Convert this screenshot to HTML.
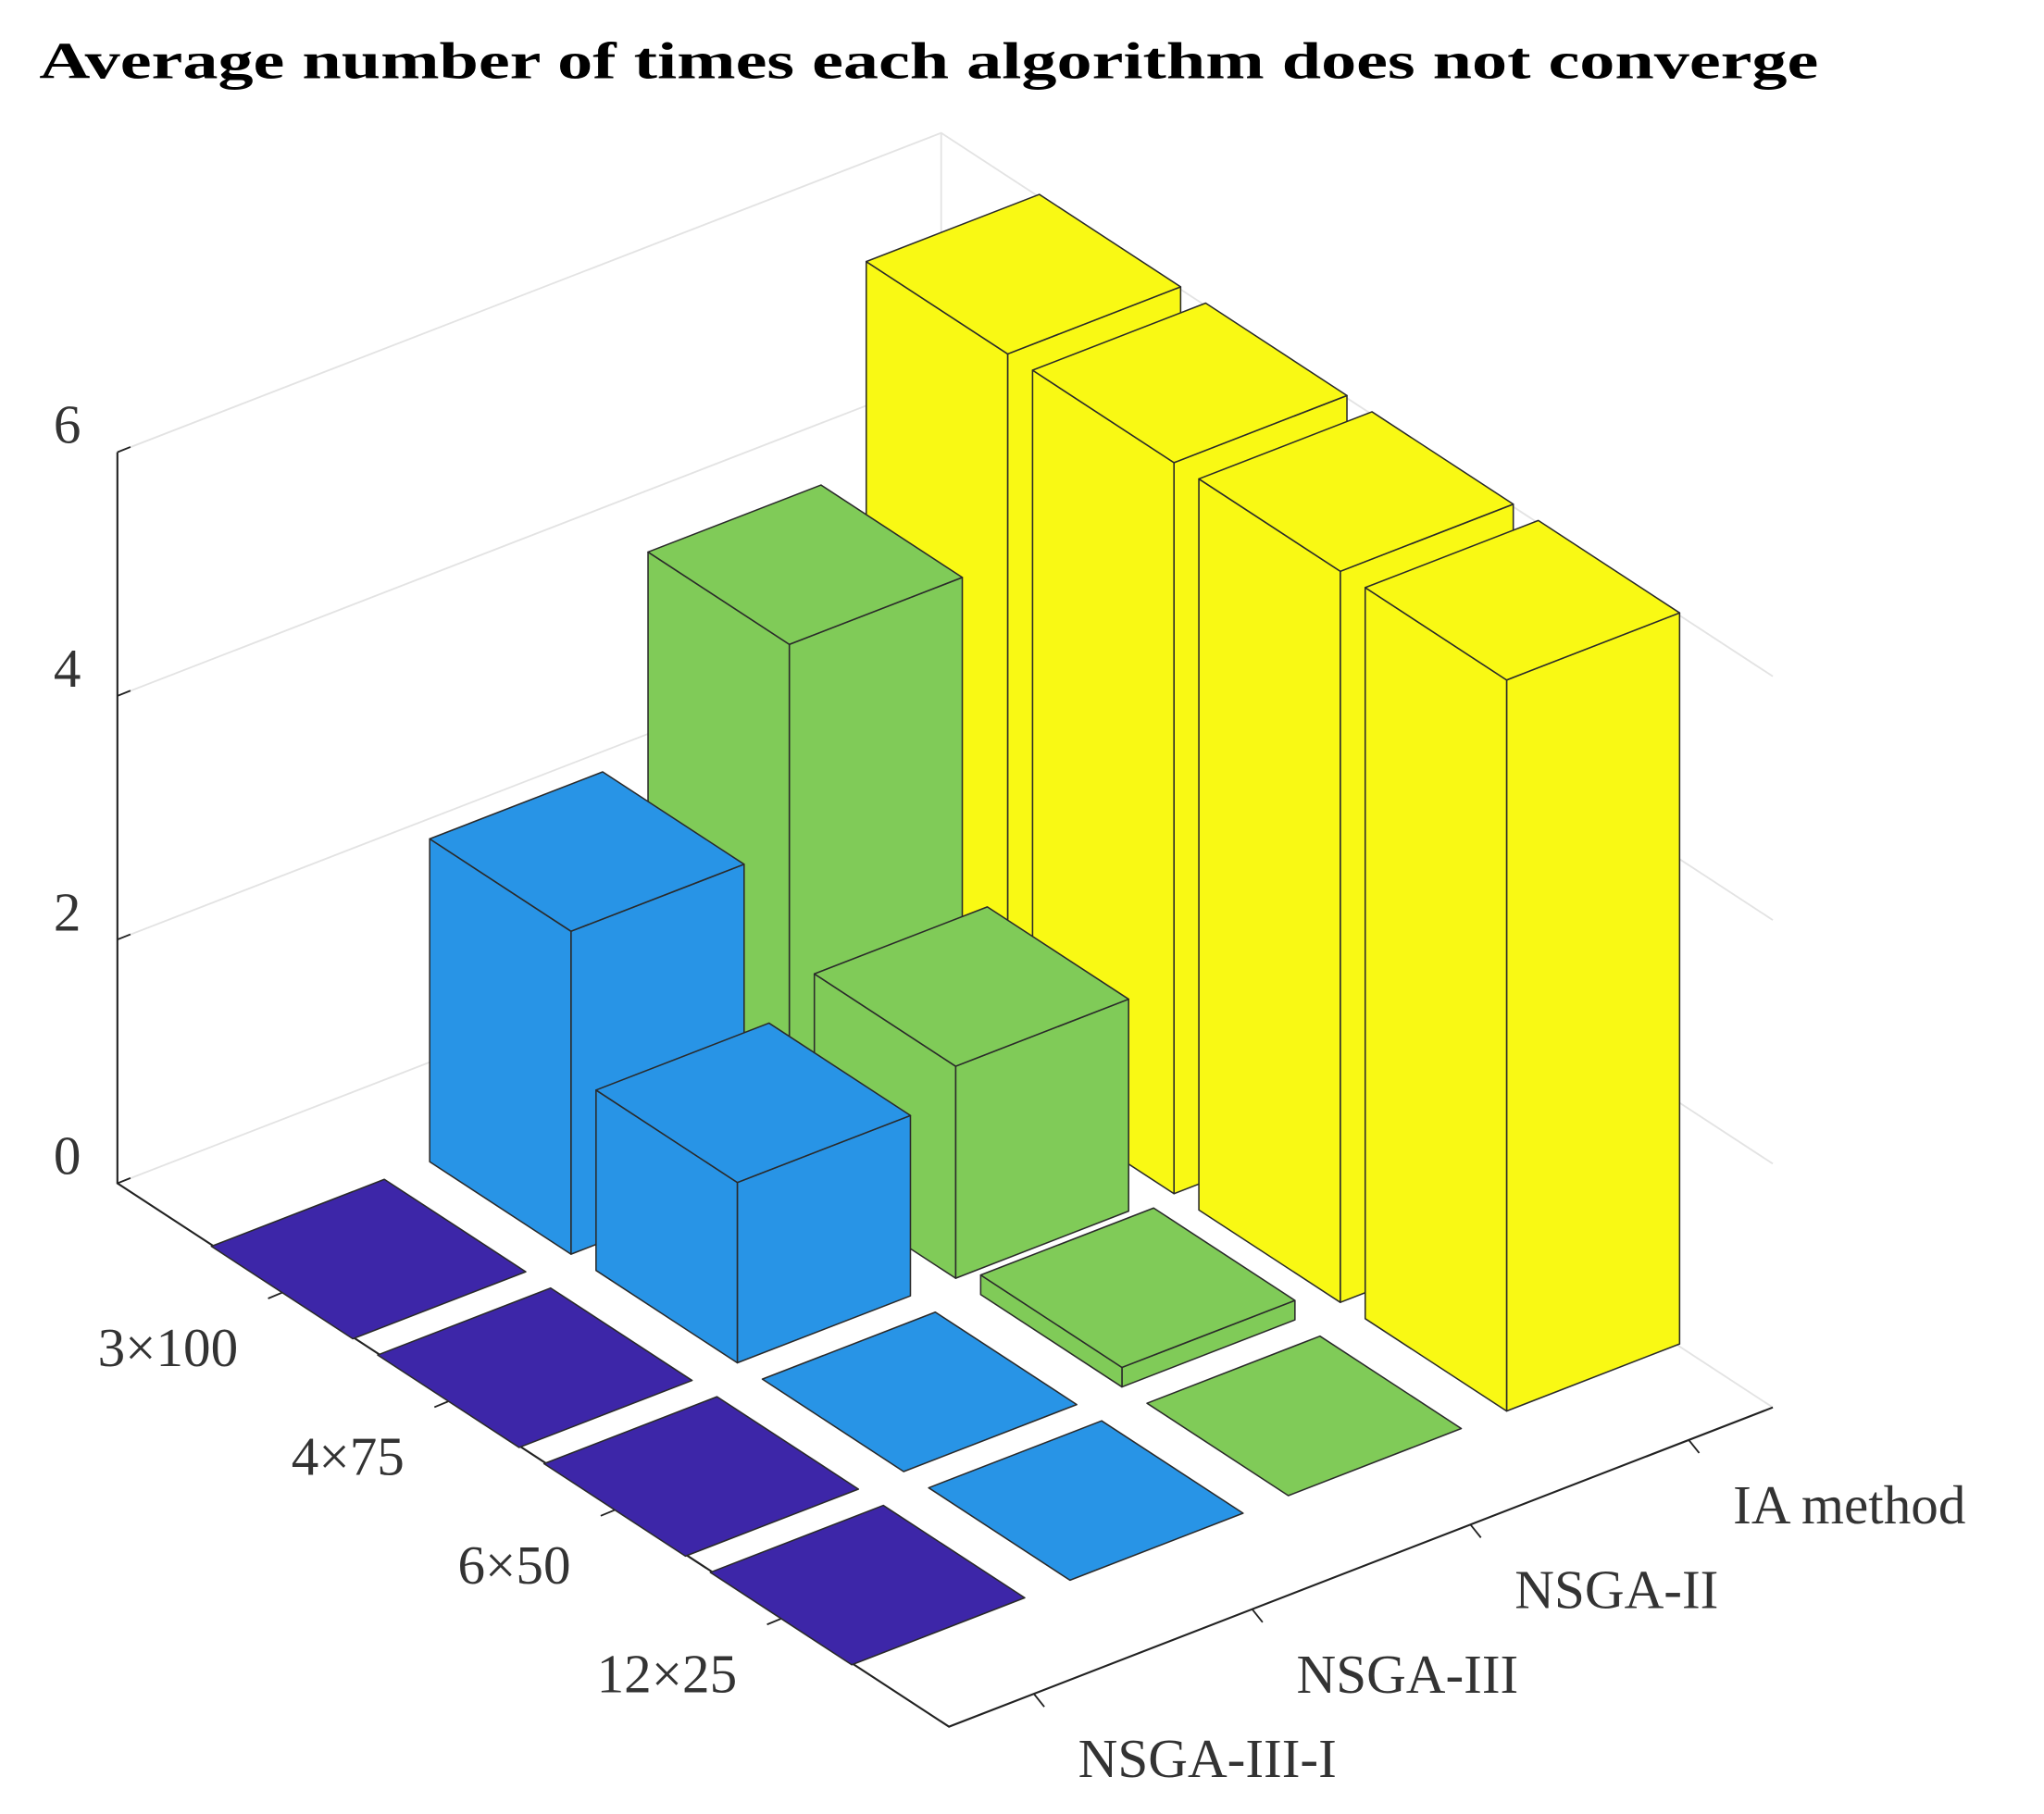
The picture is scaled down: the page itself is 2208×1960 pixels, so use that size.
<!DOCTYPE html>
<html><head><meta charset="utf-8"><style>html,body{margin:0;padding:0;background:#fff}svg{display:block}</style></head>
<body>
<svg id="chart" width="2208" height="1960" viewBox="0 0 1568 1392" xmlns="http://www.w3.org/2000/svg" font-family="'Liberation Serif', serif">
<text x="30" y="60" font-size="40" font-weight="bold" textLength="1365" lengthAdjust="spacingAndGlyphs" fill="#000">Average number of times each algorithm does not converge</text>
<g id="grid"></g><g id="axes"></g><g id="bars"></g><g id="labels"></g>
</svg>
<script>
const categories = ["3×100","4×75","6×50","12×25"];
const algorithms = ["NSGA-III-I","NSGA-III","NSGA-II","IA method"];
const seriesNSGAIIII = [0,0,0,0];
const seriesNSGAIII = [2.65,1.48,0,0];
const seriesNSGAII = [4.31,1.74,0.16,0];
const seriesIA = [6,6,6,6];
const zTicks = [0,2,4,6];
const seriesList = [seriesNSGAIIII, seriesNSGAIII, seriesNSGAII, seriesIA];
const colors = ["#3d26a8","#2894e6","#80cb58","#f9f914"];

const NS="http://www.w3.org/2000/svg";
function P(u,v,z){return [90+638*u+632*v, 908+417*u-245*v-z*93.5];}
function uPos(i){return 0.2+0.2*i;}
function vPos(j){return 0.103+0.265*j;}
function el(tag,attrs,parent){const e=document.createElementNS(NS,tag);for(const k in attrs)e.setAttribute(k,attrs[k]);parent.appendChild(e);return e;}
function pts(a){return a.map(p=>p[0].toFixed(1)+","+p[1].toFixed(1)).join(" ");}
const grid=document.getElementById('grid'),axes=document.getElementById('axes'),bars=document.getElementById('bars'),labels=document.getElementById('labels');

zTicks.forEach(t=>{
  const a=P(0,0,t),d=P(0,1,t),c=P(1,1,t);
  const g=el('polyline',{points:pts([a,d,c]),fill:'none',stroke:'#e3e3e3','stroke-width':1.3},grid);
  
  
  const tk=el('line',{x1:a[0],y1:a[1],x2:a[0]+10,y2:a[1]-4,stroke:'#222','stroke-width':1.3},axes);
  
  
  const tx=el('text',{x:62,y:a[1]-7,'font-size':42,'text-anchor':'end',fill:'#333'},labels);
  tx.textContent=t;
  
  
});
{
  const d0=P(0,1,0),d6=P(0,1,6);
  const v=el('line',{x1:d0[0],y1:d0[1],x2:d6[0],y2:d6[1],stroke:'#e3e3e3','stroke-width':1.3},grid);
  
  
  const a=P(0,0,0),b=P(1,0,0),c=P(1,1,0),top=P(0,0,6);
  const ax=el('polyline',{points:pts([top,a,b,c]),fill:'none',stroke:'#222','stroke-width':1.5},axes);
  
  
}
categories.forEach((c,i)=>{
  const p=P(uPos(i),0,0);
  const tk=el('line',{x1:p[0],y1:p[1],x2:p[0]-12,y2:p[1]+5,stroke:'#222','stroke-width':1.3},axes);
  
  
  const tx=el('text',{x:p[0]-35,y:p[1]+57,'font-size':42,'text-anchor':'end',fill:'#333'},labels);
  tx.textContent=c;
  
  
});
algorithms.forEach((a,j)=>{
  const p=P(1,vPos(j),0);
  const tk=el('line',{x1:p[0],y1:p[1],x2:p[0]+8,y2:p[1]+10,stroke:'#222','stroke-width':1.3},axes);
  
  
  const tx=el('text',{x:p[0]+34,y:p[1]+64,'font-size':42,fill:'#333'},labels);
  tx.textContent=a;
  
  
});
const hu=0.085,hv=0.105;
for(let i=0;i<categories.length;i++){
  for(let j=algorithms.length-1;j>=0;j--){
    const z=seriesList[j][i],u=uPos(i),v=vPos(j);
    const g=el('g',{},bars);
    
    
    const st={fill:colors[j],stroke:'#2a2a2a','stroke-width':1.1,'stroke-linejoin':'round'};
    if(z>0){
      el('polygon',Object.assign({points:pts([P(u+hu,v-hv,0),P(u+hu,v+hv,0),P(u+hu,v+hv,z),P(u+hu,v-hv,z)])},st),g);
      el('polygon',Object.assign({points:pts([P(u-hu,v-hv,0),P(u+hu,v-hv,0),P(u+hu,v-hv,z),P(u-hu,v-hv,z)])},st),g);
    }
    el('polygon',Object.assign({points:pts([P(u-hu,v-hv,z),P(u+hu,v-hv,z),P(u+hu,v+hv,z),P(u-hu,v+hv,z)])},st),g);
  }
}
</script>
</body></html>
